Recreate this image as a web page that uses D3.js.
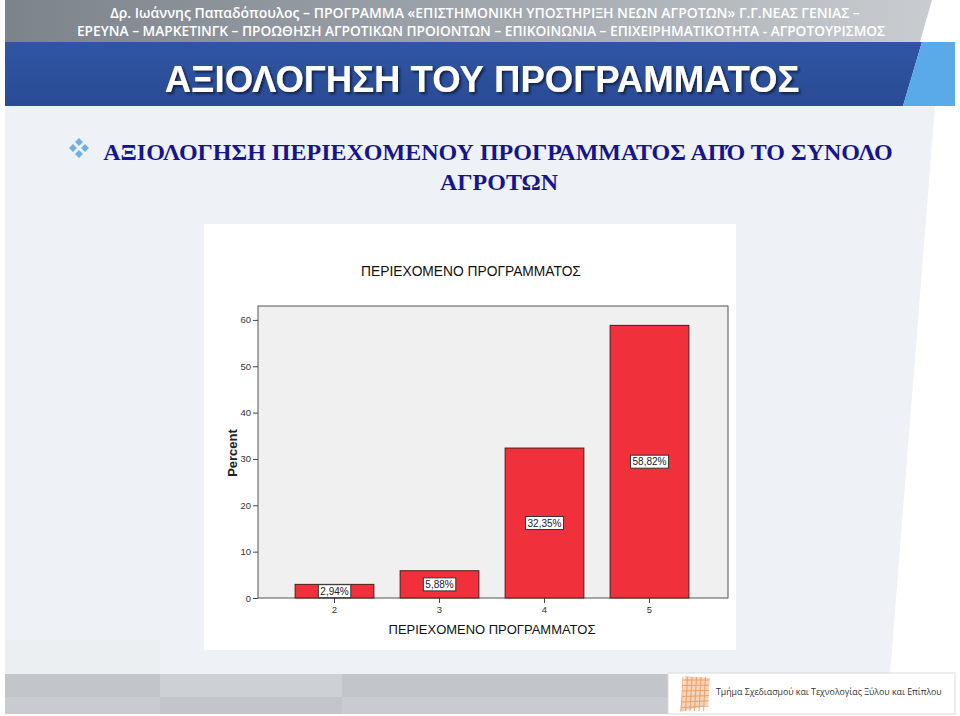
<!DOCTYPE html>
<html><head><meta charset="utf-8">
<script src="https://cdn.jsdelivr.net/npm/d3@7"></script>
<style>html,body{margin:0;padding:0;background:#fff;overflow:hidden}svg{display:block}</style>
</head><body>
<script>
const categories = ["2","3","4","5"];
const values = [2.94, 5.88, 32.35, 58.82];
const valueLabels = ["2,94%","5,88%","32,35%","58,82%"];
const yTicks = [0,10,20,30,40,50,60];
const headerLine1 = "Δρ. Ιωάννης Παπαδόπουλος – ΠΡΟΓΡΑΜΜΑ «ΕΠΙΣΤΗΜΟΝΙΚΗ ΥΠΟΣΤΗΡΙΞΗ ΝΕΩΝ ΑΓΡΟΤΩΝ» Γ.Γ.ΝΕΑΣ ΓΕΝΙΑΣ –";
const headerLine2 = "ΕΡΕΥΝΑ – ΜΑΡΚΕΤΙΝΓΚ – ΠΡΟΩΘΗΣΗ ΑΓΡΟΤΙΚΩΝ ΠΡΟΙΟΝΤΩΝ – ΕΠΙΚΟΙΝΩΝΙΑ – ΕΠΙΧΕΙΡΗΜΑΤΙΚΟΤΗΤΑ - ΑΓΡΟΤΟΥΡΙΣΜΟΣ";
const slideTitle = "ΑΞΙΟΛΟΓΗΣΗ ΤΟΥ ΠΡΟΓΡΑΜΜΑΤΟΣ";
const subtitle1 = "ΑΞΙΟΛΟΓΗΣΗ ΠΕΡΙΕΧΟΜΕΝΟΥ ΠΡΟΓΡΑΜΜΑΤΟΣ ΑΠΌ ΤΟ ΣΥΝΟΛΟ";
const subtitle2 = "ΑΓΡΟΤΩΝ";
const chartTitle = "ΠΕΡΙΕΧΟΜΕΝΟ ΠΡΟΓΡΑΜΜΑΤΟΣ";
const xTitle = "ΠΕΡΙΕΧΟΜΕΝΟ ΠΡΟΓΡΑΜΜΑΤΟΣ";
const yTitle = "Percent";
const footerText = "Τμήμα Σχεδιασμού και Τεχνολογίας Ξύλου και Επίπλου";

const W = 960, H = 716;
const svg = d3.select("body").append("svg").attr("width", W).attr("height", H);
const defs = svg.append("defs");

function fit(sel, width, start) {
  let fs = start;
  sel.attr("font-size", fs);
  const w = sel.node().getComputedTextLength();
  fs = Math.min(start, start * width / w);
  sel.attr("font-size", fs.toFixed(2));
  return sel;
}

const gHead = defs.append("linearGradient").attr("id","ghead").attr("x1",0).attr("x2",1).attr("y1",0).attr("y2",0);
gHead.append("stop").attr("offset","0%").attr("stop-color","#7d838b");
gHead.append("stop").attr("offset","45%").attr("stop-color","#9ba1a8");
gHead.append("stop").attr("offset","80%").attr("stop-color","#b7bcc1");
gHead.append("stop").attr("offset","100%").attr("stop-color","#c9cdd1");
const gBlue = defs.append("linearGradient").attr("id","gblue").attr("x1",0).attr("x2",0).attr("y1",0).attr("y2",1);
gBlue.append("stop").attr("offset","0%").attr("stop-color","#2f55a3");
gBlue.append("stop").attr("offset","100%").attr("stop-color","#2a4b94");
const sh = defs.append("filter").attr("id","shadow").attr("x","-5%").attr("y","-20%").attr("width","110%").attr("height","140%");
sh.append("feDropShadow").attr("dx",2).attr("dy",2).attr("stdDeviation",1.2).attr("flood-color","#0a1a40").attr("flood-opacity",0.9);

// slide background
svg.append("rect").attr("width",W).attr("height",H).attr("fill","#ffffff");
svg.append("path").attr("d","M5,106 L935,106 L890,674 L5,674 Z").attr("fill","#eef1f5");

// header
svg.append("path").attr("d","M5,0 L932,0 L920,42 L5,42 Z").attr("fill","url(#ghead)");
svg.append("path").attr("d","M5,42 L922,42 L903,106 L5,106 Z").attr("fill","url(#gblue)");
svg.append("path").attr("d","M922,42 L955,42 L955,106 L903,106 Z").attr("fill","#5aaaea");

fit(svg.append("text").attr("x",485).attr("y",18).attr("text-anchor","middle")
  .attr("font-family","'Open Sans',sans-serif").attr("font-weight",600)
  .attr("fill","#ffffff").text(headerLine1), 750, 14);
fit(svg.append("text").attr("x",481).attr("y",36).attr("text-anchor","middle")
  .attr("font-family","'Open Sans',sans-serif").attr("font-weight",600)
  .attr("fill","#ffffff").text(headerLine2), 808, 14);

fit(svg.append("text").attr("x",482).attr("y",92).attr("text-anchor","middle")
  .attr("font-family","'Liberation Sans',sans-serif").attr("font-weight","bold")
  .attr("fill","#ffffff").attr("filter","url(#shadow)").text(slideTitle), 635, 42);

// bullet
const bullet = svg.append("g").attr("transform","translate(79,148)");
[[0,-6],[-6,0],[6,0],[0,6]].forEach(([dx,dy])=>{
  bullet.append("path").attr("d",`M${dx},${dy-4} L${dx+4},${dy} L${dx},${dy+4} L${dx-4},${dy} Z`).attr("fill","#6fb0e0");
});

fit(svg.append("text").attr("x",498).attr("y",160).attr("text-anchor","middle")
  .attr("font-family","'Liberation Serif','DejaVu Serif',serif").attr("font-weight","bold")
  .attr("fill","#16168a").text(subtitle1), 790, 27);
fit(svg.append("text").attr("x",499).attr("y",190).attr("text-anchor","middle")
  .attr("font-family","'Liberation Serif','DejaVu Serif',serif").attr("font-weight","bold")
  .attr("fill","#16168a").text(subtitle2), 118, 26);

// chart image
svg.append("rect").attr("x",204).attr("y",224).attr("width",532).attr("height",426).attr("fill","#ffffff");

const px0 = 258, px1 = 728, py0 = 306, py1 = 598;
const x = d3.scaleBand().domain(categories).range([282, 702]).paddingInner(0.25).paddingOuter(0.125);
const y = d3.scaleLinear().domain([0, 63]).range([py1, py0]);

svg.append("rect").attr("x",px0).attr("y",py0).attr("width",px1-px0).attr("height",py1-py0)
  .attr("fill","#f0f0f0").attr("stroke","#555").attr("stroke-width",1);

fit(svg.append("text").attr("x",471).attr("y",276).attr("text-anchor","middle")
  .attr("font-family","'Liberation Sans',Arial,sans-serif").attr("fill","#111")
  .text(chartTitle), 220, 14);

// axes
const yAxis = d3.axisLeft(y).tickValues(yTicks).tickSize(5).tickPadding(2).tickFormat(d3.format("d"));
const gy = svg.append("g").attr("transform",`translate(${px0},0)`).call(yAxis);
gy.select(".domain").remove();
gy.selectAll("line").attr("stroke","#444");
gy.selectAll("text").attr("font-family","'Liberation Sans',Arial,sans-serif").attr("font-size",9.5).attr("fill","#333");

const xAxis = d3.axisBottom(x).tickSize(5).tickPadding(3);
const gx = svg.append("g").attr("transform",`translate(0,${py1})`).call(xAxis);
gx.select(".domain").remove();
gx.selectAll("line").attr("stroke","#444");
gx.selectAll("text").attr("font-family","'Liberation Sans',Arial,sans-serif").attr("font-size",9.5).attr("fill","#333");

// bars
const data = categories.map((c,i)=>({c, v: values[i], l: valueLabels[i]}));
svg.append("g").selectAll("rect").data(data).join("rect")
  .attr("x", d=>x(d.c)).attr("y", d=>y(d.v)).attr("width", x.bandwidth()).attr("height", d=>y(0)-y(d.v))
  .attr("fill","#f0313b").attr("stroke","#4a1c1c").attr("stroke-width",1);

// labels
const lg = svg.append("g").selectAll("g").data(data).join("g")
  .attr("transform", d=>`translate(${x(d.c)+x.bandwidth()/2},${y(d.v/2)})`);
lg.append("text").attr("text-anchor","middle").attr("dy","0.35em")
  .attr("font-family","'Liberation Sans',Arial,sans-serif").attr("font-size",10).attr("fill","#222")
  .text(d=>d.l);
lg.each(function(){
  const g = d3.select(this); const bb = g.select("text").node().getBBox();
  g.insert("rect","text").attr("x",bb.x-2).attr("y",bb.y-1).attr("width",bb.width+4).attr("height",bb.height+2)
   .attr("fill","#fff").attr("stroke","#333").attr("stroke-width",1);
});

fit(svg.append("text").attr("x",492).attr("y",634).attr("text-anchor","middle")
  .attr("font-family","'Liberation Sans',Arial,sans-serif").attr("fill","#111")
  .text(xTitle), 207, 14);
svg.append("text").attr("transform","translate(237,453) rotate(-90)").attr("text-anchor","middle")
  .attr("font-family","'Liberation Sans',Arial,sans-serif").attr("font-size",13).attr("font-weight","bold").attr("fill","#222")
  .text(yTitle);

// footer
svg.append("rect").attr("x",5).attr("y",640).attr("width",155).attr("height",34).attr("fill","#eceff2");
svg.append("rect").attr("x",5).attr("y",674).attr("width",663).attr("height",23).attr("fill","#c2c5c9");
svg.append("rect").attr("x",5).attr("y",697).attr("width",663).attr("height",17).attr("fill","#c8cbcf");
svg.append("rect").attr("x",160).attr("y",674).attr("width",182).attr("height",23).attr("fill","#cdd0d4");
svg.append("rect").attr("x",160).attr("y",697).attr("width",182).attr("height",17).attr("fill","#c2c5c9");
svg.append("rect").attr("x",668).attr("y",673).attr("width",287).attr("height",41).attr("fill","#ffffff").attr("stroke","#d8dadd");
// logo mark
const logo = svg.append("g");
logo.append("path").attr("d","M680,712 L685,676 L710,678 L708,705 Z").attr("fill","#f3c9a6").attr("opacity",0.8);
for (let i=0;i<6;i++){
  logo.append("line").attr("x1",683+i*4.5).attr("y1",677).attr("x2",681+i*4.5).attr("y2",711).attr("stroke","#e8955a").attr("stroke-width",0.8);
  logo.append("line").attr("x1",682).attr("y1",680+i*5.5).attr("x2",709).attr("y2",680+i*5.2).attr("stroke","#e8955a").attr("stroke-width",0.8);
}
fit(svg.append("text").attr("x",716).attr("y",695).attr("font-family","'Open Sans','DejaVu Sans',sans-serif")
  .attr("fill","#333").text(footerText), 226, 11);
</script>
</body></html>
